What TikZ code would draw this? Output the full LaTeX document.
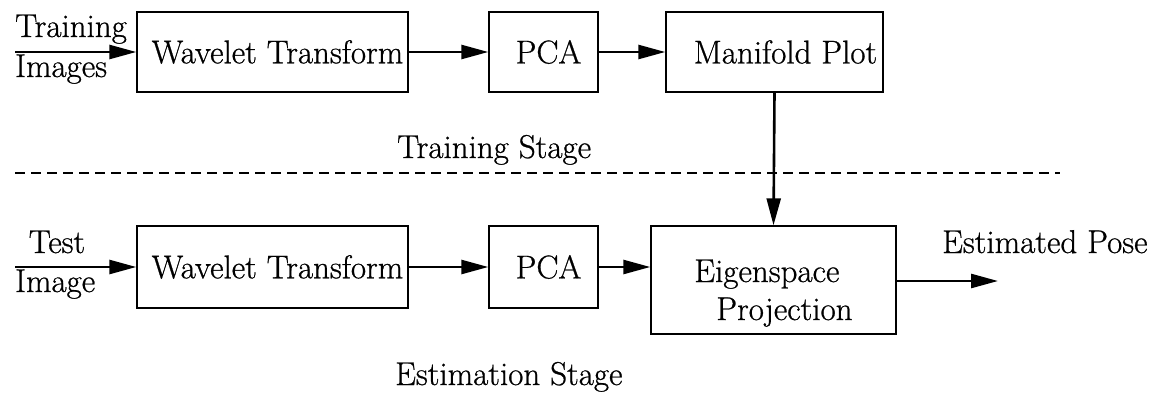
\documentclass[tikz,border=0pt]{standalone}
\usepackage{fontspec}
\setmainfont{Latin Modern Roman}
\newfontfamily\tms[FakeBold=0.7]{Latin Modern Roman}
\usetikzlibrary{arrows.meta}
\begin{document}
\begin{tikzpicture}[x=1pt,y=-1pt,
  every node/.style={font=\tms\fontsize{33}{40}\selectfont},
  blk/.style={draw, line width=1.4pt, rectangle, inner sep=0pt, align=center},
  lbl/.style={inner sep=0pt},
  arr/.style={line width=2.6pt, -{Triangle[length=27pt,width=14pt]}}]
\useasboundingbox (0,0) rectangle (1170,394);
% top row
\node[blk, minimum width=271pt, minimum height=80pt] (tw) at (272.5,52) {\hspace*{10pt}Wavelet Transform};
\node[blk, minimum width=109pt, minimum height=80pt] (tp) at (543.5,52) {\hspace*{10pt}PCA};
\node[blk, minimum width=217pt, minimum height=80pt] (tm) at (774.5,52) {\hspace*{22pt}Manifold Plot};
\coordinate (tin) at (15,52);
\node[lbl, anchor=base west] (tr1) at (15,37) {Training};
\node[lbl, anchor=base west] (tr2) at (15,77) {Images};
\draw[arr] (tin) -- (tw.west);
\draw[arr] (tw.east) -- (tp.west);
\draw[arr] (tp.east) -- (tm.west);
% stage labels and divider
\node[lbl, anchor=base west] (ts) at (397,158) {Training Stage};
\coordinate (d1) at (15,173);
\coordinate (d2) at (1060,173);
\draw[line width=1.2pt, dash pattern=on 10pt off 6pt] (d1) -- (d2);
% bottom row
\node[blk, minimum width=271pt, minimum height=82pt] (bw) at (272.5,267) {\hspace*{10pt}Wavelet Transform};
\node[blk, minimum width=109pt, minimum height=82pt] (bp) at (543.5,267) {\hspace*{10pt}PCA};
\node[blk, minimum width=245pt, minimum height=108pt] (be) at (773.5,280)
  {\raisebox{-13pt}[\height][\depth]{\begin{tabular}{@{}l@{}}Eigenspace\\[-2pt]\hspace*{22pt}Projection\end{tabular}}};
\coordinate (bin) at (15,267);
\node[lbl, anchor=base] (te1) at (57,253) {Test};
\node[lbl, anchor=base west] (te2) at (15,292) {Image};
\draw[arr] (bin) -- (bw.west);
\draw[arr] (bw.east) -- (bp.west);
\draw[arr] (bp.east) -- (bp.east -| be.west);
\draw[arr] (tm.south) -- (be.north);
\coordinate (out) at (998,281);
\draw[arr] (be.east |- out) -- (out);
\node[lbl, anchor=base west] (ep) at (942,253) {Estimated Pose};
\node[lbl, anchor=base west] (es) at (395,385) {Estimation Stage};
\end{tikzpicture}
\end{document}
